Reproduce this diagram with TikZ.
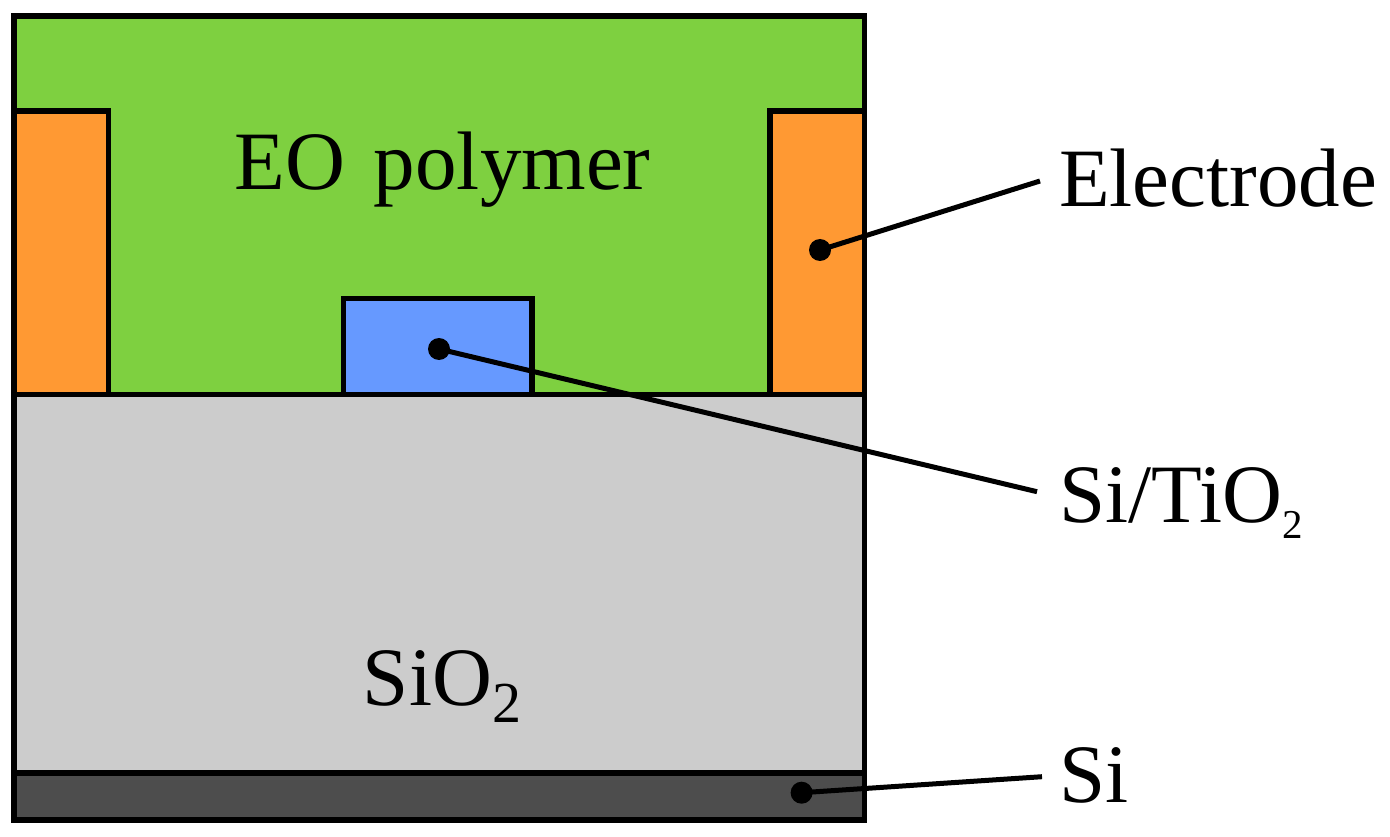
\documentclass[tikz,border=0pt]{standalone}
\usepackage{fontspec}
\setmainfont{Liberation Serif}
\usepackage{tikz}
\usetikzlibrary{positioning}
\definecolor{polygreen}{RGB}{126,208,64}
\definecolor{elecorange}{RGB}{255,153,51}
\definecolor{coreblue}{RGB}{102,153,255}
\definecolor{oxidegray}{RGB}{204,204,204}
\definecolor{subgray}{RGB}{77,77,77}
\newcommand{\lowtwo}[2]{\raisebox{-#2pt}{\fontsize{#1}{#1}\selectfont 2}}
\begin{document}
\begin{tikzpicture}[
  x=0.1pt, y=-0.1pt,
  layer/.style={draw, line width=5.3pt, line join=miter},
  dot/.style={circle, fill=black, inner sep=0pt, minimum size=22pt},
  lead/.style={line width=5pt},
  lbl/.style={inner sep=0pt, font=\fontsize{83}{83}\selectfont}
]
\useasboundingbox (0,0) rectangle (13900,8370);
\draw[layer, fill=polygreen] (140,160) rectangle (8645,3945);
\draw[layer, fill=elecorange] (140,1110) rectangle (1085,3945);
\draw[layer, fill=elecorange] (7700,1110) rectangle (8645,3945);
\draw[layer, fill=coreblue] (3435,2985) rectangle (5320,3945);
\draw[layer, fill=oxidegray] (140,3945) rectangle (8645,7730);
\draw[layer, fill=subgray] (140,7730) rectangle (8645,8200);

\node[lbl, anchor=base] (polymer) at (4425,1900) {EO\hspace{29pt}polymer};
\node[lbl, anchor=base] (oxide) at (4420,7050) {SiO\lowtwo{58}{17}};
\node[lbl, anchor=base west] (electrode) at (10590,2070) {Electrode};
\node[lbl, anchor=base west] (core) at (10590,5227) {Si/TiO\lowtwo{41}{16}};
\node[lbl, anchor=base west] (substrate) at (10590,8027) {Si};

\node[dot] (electrodedot) at (8200,2500) {};
\node[dot] (coredot) at (4390,3490) {};
\node[dot] (subdot) at (8016,7927) {};
\coordinate (electrodeend) at (10400,1810);
\coordinate (coreend) at (10370,4917);
\coordinate (subend) at (10420,7767);

\draw[lead] (electrodedot.center) -- (electrodeend);
\draw[lead] (coredot.center) -- (coreend);
\draw[lead] (subdot.center) -- (subend);
\end{tikzpicture}
\end{document}
